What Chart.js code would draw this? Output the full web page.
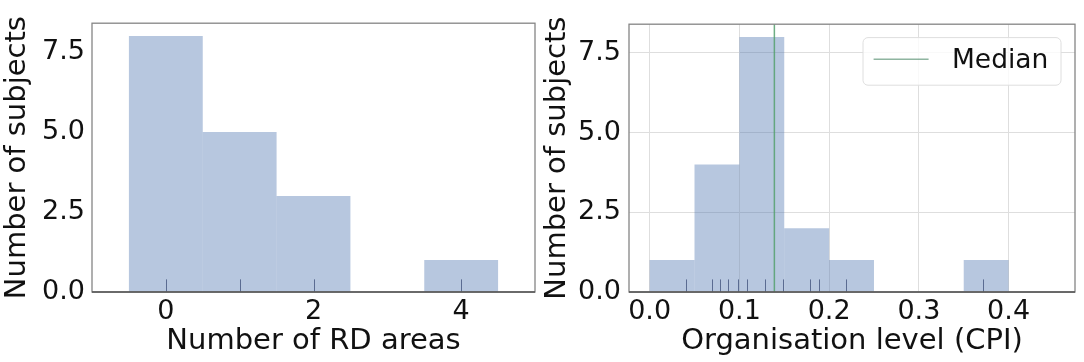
<!DOCTYPE html>
<html>
<head>
<meta charset="utf-8">
<script src="https://cdn.jsdelivr.net/npm/chart.js@4/dist/chart.umd.min.js"></script>
<style>
    body { margin: 0; background: #fff; }
    .panel { position: absolute; top: 0; }
</style>
</head>
<body>
<div class="panel" style="left:0"><canvas id="leftChart" width="540" height="362"></canvas></div>
<div class="panel" style="left:540px"><canvas id="rightChart" width="544" height="362"></canvas></div>
<script>
// Left histogram: number of RD areas per subject
const leftBins = [0, 1, 2, 3, 4];
const leftCounts = [8, 5, 3, 0, 1];
const leftRug = [0, 1, 2, 4];
const leftXTicks = [0, 2, 4];
const leftXTickLabels = ['0', '2', '4'];

// Right histogram: organisation level (CPI), bins of 0.05
const rightBins = [0.025, 0.075, 0.125, 0.175, 0.225, 0.275, 0.325, 0.375];
const rightCounts = [1, 4, 8, 2, 1, 0, 0, 1];
const rightRug = [0.040, 0.069, 0.078, 0.087, 0.098, 0.109, 0.129, 0.149, 0.179, 0.189, 0.219, 0.371];
const rightMedian = 0.139;
const rightXTicks = [0, 0.1, 0.2, 0.3, 0.4];
const rightXTickLabels = ['0.0', '0.1', '0.2', '0.3', '0.4'];

const yTicks = [0, 2.5, 5, 7.5];
const yTickLabels = ['0.0', '2.5', '5.0', '7.5'];

Chart.defaults.font.family = "'DejaVu Sans', sans-serif";
Chart.defaults.color = '#111';

// rug ticks, median line, frame and legend drawn on top of the bars
const overlayPlugin = {
    id: 'overlay',
    afterDatasetsDraw(chart, args, opts) {
        const ctx = chart.ctx;
        const area = chart.chartArea;
        const xs = chart.scales.x;
        ctx.save();

        // rug
        const rugH = (area.bottom - area.top) * 0.047;
        ctx.strokeStyle = '#5a6b91';
        ctx.lineWidth = 1;
        opts.rug.forEach(v => {
            const px = Math.round(xs.getPixelForValue(v)) + 0.5;
            ctx.beginPath();
            ctx.moveTo(px, area.bottom);
            ctx.lineTo(px, area.bottom - rugH);
            ctx.stroke();
        });

        // median
        if (opts.median !== undefined) {
            const mx = xs.getPixelForValue(opts.median);
            ctx.strokeStyle = 'rgba(85,160,110,0.85)';
            ctx.lineWidth = 1.5;
            ctx.beginPath();
            ctx.moveTo(mx, area.top);
            ctx.lineTo(mx, area.bottom);
            ctx.stroke();
        }

        // frame
        ctx.strokeStyle = '#858585';
        ctx.lineWidth = 1.3;
        ctx.strokeRect(area.left, area.top, area.right - area.left, area.bottom - area.top);
        ctx.strokeStyle = '#555';
        ctx.beginPath();
        ctx.moveTo(area.left, area.bottom);
        ctx.lineTo(area.right, area.bottom);
        ctx.stroke();

        // legend
        if (opts.legendText) {
            const w = 198, h = 47.6;
            const bx = area.right - 14 - w;
            const by = area.top + 13.4;
            ctx.fillStyle = 'rgba(255,255,255,0.8)';
            ctx.strokeStyle = '#dedede';
            ctx.lineWidth = 1;
            ctx.beginPath();
            ctx.roundRect(bx, by, w, h, 5);
            ctx.fill();
            ctx.stroke();
            ctx.strokeStyle = 'rgba(95,150,120,0.7)';
            ctx.lineWidth = 1.5;
            ctx.beginPath();
            ctx.moveTo(bx + 10.6, by + 21.6);
            ctx.lineTo(bx + 65.6, by + 21.6);
            ctx.stroke();
            ctx.fillStyle = '#111';
            ctx.font = "26.5px 'DejaVu Sans', sans-serif";
            ctx.textBaseline = 'alphabetic';
            ctx.textAlign = 'left';
            ctx.fillText(opts.legendText, bx + 89, by + 30);
        }
        ctx.restore();
    }
};

function makeHistogram(canvasId, p) {
    const ctx = document.getElementById(canvasId).getContext('2d');
    return new Chart(ctx, {
        type: 'bar',
        data: {
            datasets: [{
                data: p.bins.map((b, i) => ({ x: b, y: p.counts[i] })),
                backgroundColor: 'rgba(76,114,176,0.4)',
                borderWidth: 0,
                inflateAmount: 0,
                barPercentage: 1,
                categoryPercentage: 1
            }]
        },
        options: {
            responsive: false,
            animation: false,
            devicePixelRatio: 1,
            layout: { padding: { left: 0, right: p.padRight, top: 13, bottom: 0 } },
            plugins: {
                legend: { display: false },
                tooltip: { enabled: false },
                overlay: { rug: p.rug, median: p.median, legendText: p.legendText }
            },
            scales: {
                x: {
                    type: 'linear',
                    min: p.xMin,
                    max: p.xMax,
                    offset: false,
                    border: { display: false },
                    grid: { display: p.grid, offset: false, color: '#dedede', drawTicks: false },
                    afterBuildTicks: s => { s.ticks = p.xTicks.map(v => ({ value: v })); },
                    afterFit: s => { s.height = 70; },
                    ticks: {
                        font: { size: 27 },
                        padding: 4,
                        callback: (v, i) => p.xTickLabels[i]
                    },
                    title: {
                        display: true,
                        text: p.xTitle,
                        font: { size: 29 },
                        padding: { top: 0, bottom: 3 }
                    }
                },
                y: {
                    min: 0,
                    max: 8.4,
                    border: { display: false },
                    grid: { display: p.grid, color: '#dedede', drawTicks: false },
                    afterBuildTicks: s => { s.ticks = yTicks.map(v => ({ value: v })); },
                    afterFit: s => { s.width = p.yWidth; },
                    ticks: {
                        font: { size: 27 },
                        padding: p.yPad,
                        callback: (v, i) => yTickLabels[i]
                    },
                    title: {
                        display: true,
                        text: 'Number of subjects',
                        font: { size: 29 },
                        padding: { top: 0, bottom: 0 }
                    }
                }
            }
        },
        plugins: [overlayPlugin]
    });
}

makeHistogram('leftChart', {
    bins: leftBins, counts: leftCounts, rug: leftRug,
    xMin: -1, xMax: 5, xTicks: leftXTicks, xTickLabels: leftXTickLabels,
    xTitle: 'Number of RD areas', grid: false,
    padRight: 5, yWidth: 92, yPad: 7
});

makeHistogram('rightChart', {
    bins: rightBins, counts: rightCounts, rug: rightRug, median: rightMedian,
    legendText: 'Median',
    xMin: -0.023, xMax: 0.474, xTicks: rightXTicks, xTickLabels: rightXTickLabels,
    xTitle: 'Organisation level (CPI)', grid: true,
    padRight: 9, yWidth: 89, yPad: 8
});
</script>
</body>
</html>
